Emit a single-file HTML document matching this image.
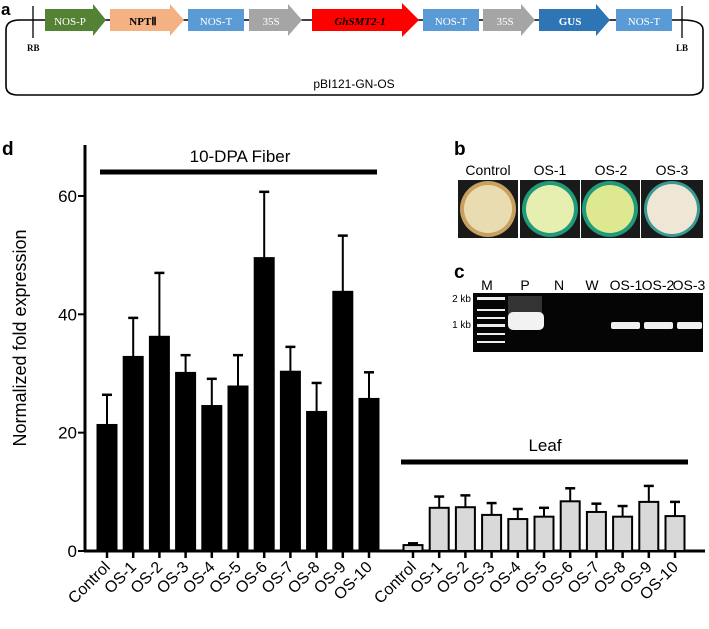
<!DOCTYPE html>
<html><head><meta charset="utf-8"><style>
body{margin:0;background:#fff}
svg{display:block;font-family:"Liberation Sans",Arial,sans-serif}
.ser{font-family:"Liberation Serif",serif;font-weight:bold}
</style></head><body>
<svg id="fig" width="709" height="629" viewBox="0 0 709 629">
<!-- Panel a -->
<g>
<text x="1" y="15" font-size="17" font-weight="bold">a</text>
<path d="M33 20 H682 Q703 20 703 30 V86 Q703 95 690 95 H18 Q6 95 6 86 V30 Q6 20 20 20 Z" fill="none" stroke="#000" stroke-width="1.6"/>
<line x1="33" y1="6" x2="33" y2="38" stroke="#000" stroke-width="1.3"/>
<line x1="682" y1="6" x2="682" y2="38" stroke="#000" stroke-width="1.3"/>
<text x="27" y="51" font-size="9" class="ser">RB</text>
<text x="676" y="51" font-size="9" class="ser">LB</text>
<polygon points="45,9 93,9 93,4 106,20 93,36 93,31 45,31" fill="#548235"/>
<text x="70" y="25" font-size="11" fill="#fff" class="ser" style="font-weight:normal" text-anchor="middle">NOS-P</text>
<polygon points="110,9 170,9 170,4 184,20 170,36 170,31 110,31" fill="#f4b183"/>
<text x="143" y="25" font-size="11" class="ser" text-anchor="middle">NPTⅡ</text>
<rect x="188" y="9" width="56" height="22" fill="#5b9bd5"/>
<text x="216" y="25" font-size="11" fill="#fff" class="ser" style="font-weight:normal" text-anchor="middle">NOS-T</text>
<polygon points="249,9 288,9 288,4 302,20 288,36 288,31 249,31" fill="#a5a5a5"/>
<text x="271" y="25" font-size="11" fill="#fff" class="ser" style="font-weight:normal" text-anchor="middle">35S</text>
<polygon points="312,9 402,9 402,3 419,20 402,37 402,31 312,31" fill="#ff0000"/>
<text x="360" y="25" font-size="11" font-style="italic" class="ser" text-anchor="middle">GhSMT2-1</text>
<rect x="423" y="9" width="56" height="22" fill="#5b9bd5"/>
<text x="451" y="25" font-size="11" fill="#fff" class="ser" style="font-weight:normal" text-anchor="middle">NOS-T</text>
<polygon points="483,9 521,9 521,4 535,20 521,36 521,31 483,31" fill="#a5a5a5"/>
<text x="505" y="25" font-size="11" fill="#fff" class="ser" style="font-weight:normal" text-anchor="middle">35S</text>
<polygon points="539,9 596,9 596,4 610,20 596,36 596,31 539,31" fill="#2e75b6"/>
<text x="570" y="25" font-size="11" fill="#fff" class="ser" text-anchor="middle">GUS</text>
<rect x="616" y="9" width="56" height="22" fill="#5b9bd5"/>
<text x="644" y="25" font-size="11" fill="#fff" class="ser" style="font-weight:normal" text-anchor="middle">NOS-T</text>
<text x="354" y="88" font-size="12" text-anchor="middle">pBI121-GN-OS</text>
</g>
<!-- Panel b -->
<g>
<text x="454" y="155" font-size="19" font-weight="bold">b</text>
<text x="488" y="175" font-size="14" text-anchor="middle">Control</text>
<text x="550" y="175" font-size="14" text-anchor="middle">OS-1</text>
<text x="611" y="175" font-size="14" text-anchor="middle">OS-2</text>
<text x="672" y="175" font-size="14" text-anchor="middle">OS-3</text>
<rect x="458" y="180" width="60" height="58" fill="#1a1a1a"/>
<circle cx="488" cy="209" r="28" fill="#c8a060"/><circle cx="488" cy="209" r="24" fill="#e8dcb0"/>
<rect x="520" y="180" width="60" height="58" fill="#1a1a1a"/>
<circle cx="550" cy="209" r="28" fill="#1f9a7a"/><circle cx="550" cy="209" r="24" fill="#e6eeb0"/>
<rect x="581" y="180" width="59" height="58" fill="#1a1a1a"/>
<circle cx="610" cy="209" r="28" fill="#1f9a7a"/><circle cx="610" cy="209" r="24" fill="#dde890"/>
<rect x="641" y="180" width="62" height="58" fill="#1a1a1a"/>
<circle cx="672" cy="209" r="28" fill="#3a9a90"/><circle cx="672" cy="209" r="25" fill="#efe6d6"/>
</g>
<!-- Panel c -->
<g>
<text x="454" y="278" font-size="19" font-weight="bold">c</text>
<g font-size="14" text-anchor="middle">
<text x="487" y="290">M</text><text x="525" y="290">P</text><text x="559" y="290">N</text><text x="592" y="290">W</text>
<text x="626" y="290">OS-1</text><text x="658" y="290">OS-2</text><text x="689" y="290">OS-3</text>
</g>
<text x="471" y="302" font-size="10" text-anchor="end">2 kb</text>
<text x="471" y="328" font-size="10" text-anchor="end">1 kb</text>
<rect x="473" y="293" width="230" height="59" fill="#050505"/>
<g fill="#eee">
<rect x="477" y="297" width="28" height="3"/><rect x="477" y="309" width="28" height="2"/><rect x="477" y="317" width="28" height="2"/>
<rect x="477" y="324" width="28" height="3"/><rect x="477" y="333" width="28" height="2"/><rect x="477" y="341" width="28" height="2"/>
</g>
<rect x="508" y="296" width="34" height="20" fill="#333"/>
<rect x="508" y="312" width="36" height="18" rx="5" fill="#f2f2f2"/>
<rect x="611" y="322" width="29" height="7" rx="2" fill="#f0f0f0"/>
<rect x="644" y="322" width="29" height="7" rx="2" fill="#f0f0f0"/>
<rect x="677" y="322" width="25" height="7" rx="2" fill="#f0f0f0"/>
</g>
<!-- Panel d -->
<g id="chart">
<text x="2" y="155" font-size="19" font-weight="bold">d</text>
<text transform="translate(26,338) rotate(-90)" font-size="18" text-anchor="middle">Normalized fold expression</text>
<line x1="85" y1="145" x2="85" y2="551" stroke="#000" stroke-width="3"/>
<line x1="84" y1="551" x2="705" y2="551" stroke="#000" stroke-width="3"/>
<line x1="100" y1="172" x2="377" y2="172" stroke="#000" stroke-width="5"/>
<text x="240" y="162" font-size="17" text-anchor="middle">10-DPA Fiber</text>
<line x1="401" y1="462" x2="688" y2="462" stroke="#000" stroke-width="5"/>
<text x="545" y="451" font-size="17" text-anchor="middle">Leaf</text>
</g>
</svg>
<script>
const categories = ["Control","OS-1","OS-2","OS-3","OS-4","OS-5","OS-6","OS-7","OS-8","OS-9","OS-10"];
const fiberValues = [21.3,32.8,36.2,30.1,24.5,27.8,49.5,30.3,23.5,43.8,25.7];
const fiberErrors = [5.1,6.6,10.8,3.0,4.6,5.3,11.2,4.2,4.9,9.5,4.5];
const leafValues = [1.0,7.3,7.4,6.1,5.4,5.8,8.4,6.6,5.8,8.3,5.9];
const leafErrors = [0.3,1.9,2.0,2.0,1.7,1.5,2.2,1.4,1.8,2.7,2.4];
const yTicks = [0,20,40,60];

const NS = "http://www.w3.org/2000/svg";
const chart = document.getElementById("chart");
function y(v){ return 551 - v * 5.917; }
function xFiber(i){ return 107 + i * 26.2; }
function xLeaf(i){ return 413 + i * 26.2; }
function mk(tag, attrs){ const e = document.createElementNS(NS, tag); for (const k in attrs) e.setAttribute(k, attrs[k]); chart.appendChild(e); return e; }

yTicks.forEach(t => {
  const tk = mk("line", {x1:78, y1:y(t), x2:85, y2:y(t), stroke:"#000", "stroke-width":2});
  
  
  const lb = mk("text", {x:77, y:y(t)+6, "font-size":17, "text-anchor":"end"});
  lb.textContent = t;
  
  
});

function drawGroup(vals, errs, xf, fill, stroke){
  categories.forEach((c, i) => {
    const cx = xf(i), top = y(vals[i]), et = y(vals[i] + errs[i]);
    const el = mk("line", {x1:cx, y1:top, x2:cx, y2:et, stroke:"#000", "stroke-width":2});
    
    
    const cap = mk("line", {x1:cx-5, y1:et, x2:cx+5, y2:et, stroke:"#000", "stroke-width":2.5});
    
    
    const b = mk("rect", {x:cx-9.5, y:top, width:19, height:551-top, fill:fill, stroke:stroke, "stroke-width":2});
    
    
    const tk = mk("line", {x1:cx, y1:551, x2:cx, y2:558, stroke:"#000", "stroke-width":2.5});
    
    
    const lb = mk("text", {x:cx+4, y:568, "font-size":16, "text-anchor":"end", transform:"rotate(-45 "+(cx+4)+" 568)"});
    lb.textContent = c;
    
    
  });
}
drawGroup(fiberValues, fiberErrors, xFiber, "#000", "#000");
drawGroup(leafValues, leafErrors, xLeaf, "#d9d9d9", "#000");
</script>
</body></html>
